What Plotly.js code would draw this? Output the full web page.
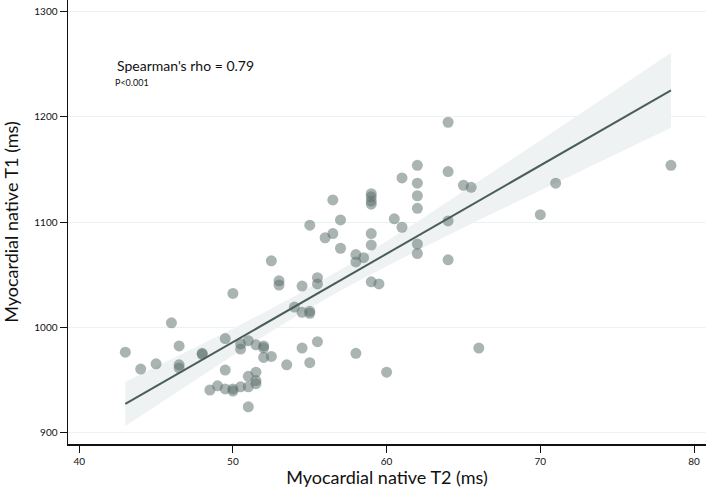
<!DOCTYPE html>
<html>
<head>
<meta charset="utf-8">
<script src="https://cdn.plot.ly/plotly-3.0.1.min.js"></script>
<style>html,body{margin:0;padding:0;background:#fff;}#chart{width:706px;height:496px;}</style>
</head>
<body>
<div id="chart"></div>
<script>
// Scatter data: Myocardial native T2 (ms) vs native T1 (ms)
const t2 = [43, 44, 45, 46, 46.5, 46.5, 46.5, 48, 48, 49.5, 49.5, 48.5, 49, 49.5, 50, 50, 50,
  50.5, 50.5, 50.5, 51, 51, 51, 51, 51.5, 51.5, 51.5, 51.5, 52, 52, 52, 52.5, 52.5,
  53, 53, 53.5, 54, 54.5, 54.5, 54.5, 55, 55, 55, 55.5, 55.5, 55.5, 55, 56, 56.5, 56.5,
  57, 57, 58, 58, 58, 58.5, 59, 59, 59, 59, 59, 59, 59, 59.5, 60, 60.5, 61, 61,
  62, 62, 62, 62, 62, 62, 64, 64, 64, 64, 65, 65.5, 66, 70, 71, 78.5];
const t1 = [976, 960, 965, 1004, 982, 964, 961, 975, 974, 989, 959, 940, 944, 941, 941, 939, 1032,
  984, 979, 943, 987, 953, 943, 924, 983, 957, 949, 946, 982, 980, 971, 972, 1063,
  1044, 1040, 964, 1019, 1039, 980, 1014, 1015, 1013, 966, 1047, 1041, 986, 1097, 1085, 1089, 1121,
  1102, 1075, 1069, 1062, 975, 1066, 1127, 1124, 1120, 1117, 1089, 1078, 1043, 1041, 957, 1103, 1142, 1095,
  1154, 1137, 1125, 1113, 1079, 1070, 1195, 1148, 1101, 1064, 1135, 1133, 980, 1107, 1137, 1154];

// Linear fit (endpoints)
const fitX = [43, 78.5];
const fitY = [926.7, 1225.4];

// 95% confidence band
const bandX = [43, 46, 50, 54, 56, 58, 62, 66, 70, 74, 78.5];
const bandUpper = [947.7, 969.1, 998.3, 1029.2, 1045.8, 1063.2, 1100.3, 1138.6, 1177.6, 1216.8, 1261.1];
const bandLower = [905.7, 934.7, 972.9, 1009.4, 1026.4, 1042.6, 1072.9, 1101.8, 1130.2, 1158.2, 1189.7];

const xTicks = [40, 50, 60, 70, 80];
const yTicks = [900, 1000, 1100, 1200, 1300];

const polyX = bandX.concat(bandX.slice().reverse());
const polyY = bandUpper.concat(bandLower.slice().reverse());

const font = 'Lato, "Open Sans", sans-serif';

const traces = [
  {x: polyX, y: polyY, type: 'scatter', mode: 'lines', fill: 'toself',
   fillcolor: '#eef2f2', line: {width: 0, color: 'rgba(0,0,0,0)'}, hoverinfo: 'skip', showlegend: false},
  {x: t2, y: t1, type: 'scatter', mode: 'markers',
   marker: {size: 11, color: 'rgba(92,112,108,0.52)', line: {width: 0}}, showlegend: false},
  {x: fitX, y: fitY, type: 'scatter', mode: 'lines',
   line: {color: '#4b5d5a', width: 2}, showlegend: false}
];

const layout = {
  width: 706, height: 496,
  margin: {l: 68, r: 0, t: 0, b: 52},
  paper_bgcolor: '#ffffff', plot_bgcolor: '#ffffff',
  font: {family: font, color: '#111'},
  xaxis: {
    range: [39.27, 80.78], tickvals: xTicks, ticktext: xTicks.map(String),
    ticks: 'outside', ticklen: 7, tickwidth: 1, tickcolor: '#111',
    showline: true, linecolor: '#111', linewidth: 1.5, showgrid: false, zeroline: false,
    tickfont: {size: 10, family: font},
    title: {text: 'Myocardial native T2 (ms)', font: {size: 18, family: font}, standoff: 4}
  },
  yaxis: {
    range: [888.6, 1311.4], tickvals: yTicks, ticktext: yTicks.map(String),
    ticks: 'outside', ticklen: 7, tickwidth: 1, tickcolor: '#111',
    showline: true, linecolor: '#111', linewidth: 1.5,
    showgrid: true, gridcolor: '#e9f3f2', gridwidth: 1, zeroline: false,
    tickfont: {size: 10, family: font},
    title: {text: 'Myocardial native T1 (ms)', font: {size: 18, family: font}, standoff: 12}
  },
  annotations: [
    {xref: 'paper', yref: 'paper', x: 0.0737, y: 0.8536, xanchor: 'left', yanchor: 'middle',
     text: "Spearman's rho = 0.79", showarrow: false, font: {size: 14, family: font, color: '#111'}},
    {xref: 'paper', yref: 'paper', x: 0.0705, y: 0.8153, xanchor: 'left', yanchor: 'middle',
     text: 'P<0.001', showarrow: false, font: {size: 9, family: font, color: '#111'}}
  ]
};

Plotly.newPlot('chart', traces, layout, {displayModeBar: false, staticPlot: true});
</script>
</body>
</html>
